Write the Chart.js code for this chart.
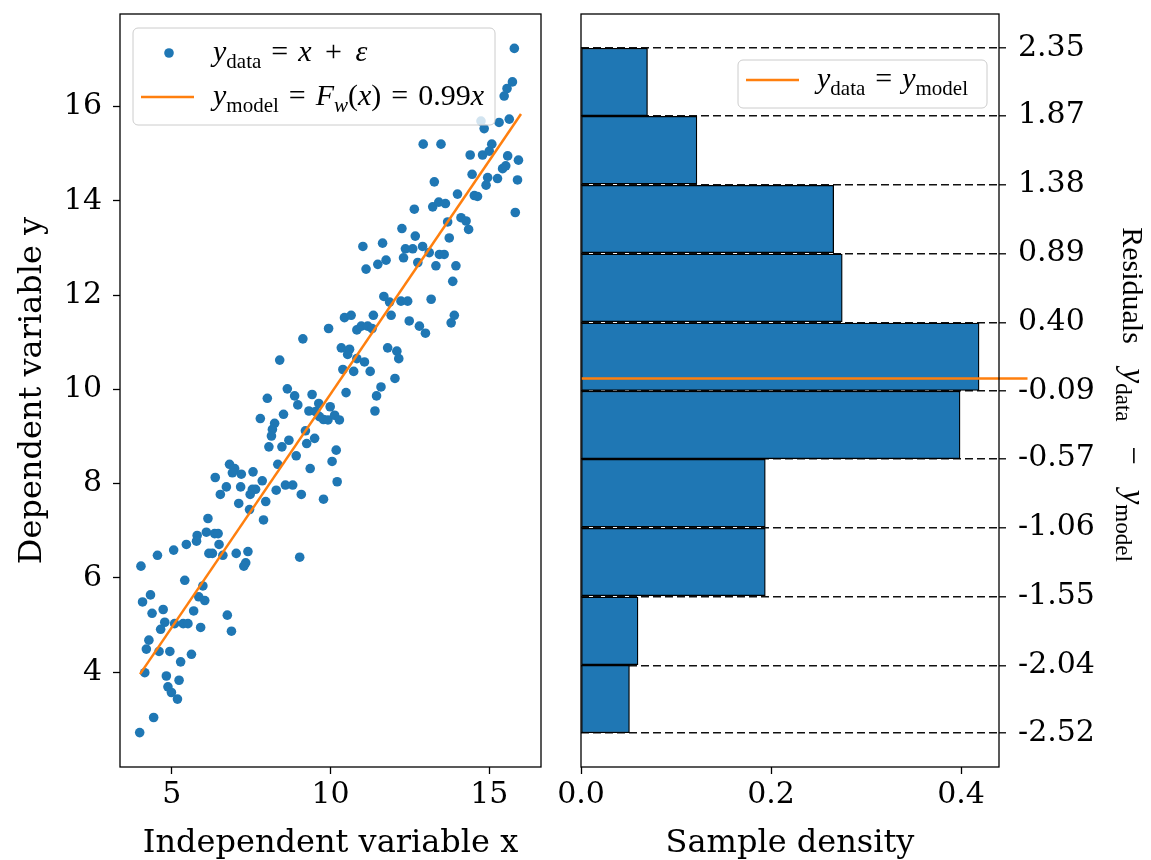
<!DOCTYPE html>
<html>
<head>
<meta charset="utf-8">
<script src="https://cdn.jsdelivr.net/npm/chart.js@4.4.1/dist/chart.umd.min.js"></script>
<style>
    html, body { margin: 0; padding: 0; background: #fff; }
    body { width: 1151px; height: 860px; position: relative; overflow: hidden; }
    #left { position: absolute; left: 0; top: 0; width: 560px; height: 860px; }
    #right { position: absolute; left: 540px; top: 0; width: 611px; height: 860px; }
</style>
</head>
<body>
<div id="left"><canvas id="fitChart"></canvas></div>
<div id="right"><canvas id="residChart"></canvas></div>
<script>
const xData = [
    15.79, 15.73, 15.56, 15.47, 14.74, 14.84, 15.31, 15.63, 12.92, 13.48, 15.08, 14.40, 14.79, 15.00,
    15.58, 15.92, 14.46, 14.95, 15.26, 15.42, 15.52, 15.89, 14.90, 13.27, 14.00, 14.53, 14.63, 12.64,
    13.22, 13.41, 13.62, 15.82, 14.11, 14.27, 14.35, 13.69, 12.25, 12.67, 13.74, 11.02, 11.64, 12.36,
    12.59, 12.90, 13.11, 13.43, 13.58, 12.30, 11.49, 11.75, 12.75, 13.32, 13.95, 11.12,
    13.85, 11.68, 11.86, 12.22, 12.43, 13.17, 10.44, 10.65, 11.35, 11.91, 12.48, 12.80, 12.99, 13.80,
    13.90, 9.94, 10.83, 10.97, 11.17, 11.31, 9.13, 10.34, 10.60, 10.54, 11.80, 12.09, 12.15, 8.40,
    10.83, 11.07, 10.39, 10.73, 11.25, 12.03, 11.59, 11.45, 11.40, 8.64, 8.87, 9.42, 8.01, 8.97,
    9.63, 9.99, 10.49, 9.32, 9.53, 9.65, 9.78, 9.92, 10.13, 10.28, 7.79, 8.52, 8.24, 8.17,
    8.14, 9.21, 9.50, 9.25, 8.69, 8.06, 8.47, 8.92, 10.18, 10.05, 8.34, 9.36, 6.82, 6.98,
    7.19, 7.56, 6.91, 6.37, 7.85, 6.72, 7.17, 6.53, 7.54, 7.64, 7.47, 8.29, 8.58, 8.81,
    9.08, 10.21, 9.78, 7.11, 7.96, 7.45, 6.14, 7.89,
    6.09, 6.35, 6.46, 5.80, 5.78, 5.46, 6.49, 5.06, 4.55, 6.17, 6.28, 6.61, 7.03, 7.40,
    9.03, 7.33, 7.27, 4.03, 5.41, 5.98, 4.33, 4.08, 5.85, 6.04, 4.73, 5.69, 4.38, 6.75,
    4.78, 4.65, 5.09, 5.36, 5.51, 5.91, 6.88, 4.28, 4.20, 4.60, 4.94, 5.62, 5.28, 4.15,
    4.83, 5.23, 4.88, 4.99, 5.18, 4.43, 3.99
];
const yData = [
    17.23, 16.52, 16.38, 16.22, 15.69, 15.53, 15.66, 15.73, 15.20, 15.20, 15.20, 14.97, 14.97, 15.05,
    14.95, 14.86, 14.56, 14.49, 14.47, 14.68, 14.74, 14.44, 14.33, 14.40, 14.14, 14.11, 14.09, 13.82,
    13.87, 13.97, 13.94, 13.75, 13.64, 13.57, 13.39, 13.55, 13.41, 13.25, 13.21, 13.03, 13.10, 12.98,
    12.98, 13.03, 12.90, 12.86, 12.86, 12.79, 12.65, 12.74, 12.69, 12.62, 12.62, 12.55,
    12.29, 11.97, 11.85, 11.87, 11.87, 11.91, 11.52, 11.57, 11.57, 11.57, 11.45, 11.34, 11.19, 11.41,
    11.57, 11.29, 11.26, 11.34, 11.34, 11.29, 11.07, 10.88, 10.85, 10.74, 10.88, 10.81, 10.65, 10.62,
    10.65, 10.58, 10.42, 10.38, 10.38, 10.23, 10.05, 9.86, 9.54, 10.01, 9.86, 9.89, 9.81, 9.67,
    9.70, 9.63, 9.93, 9.54, 9.53, 9.42, 9.36, 9.35, 9.45, 9.35, 9.38, 9.47, 9.28, 9.15,
    9.01, 9.12, 8.96, 8.85, 8.92, 8.78, 8.78, 8.59, 8.71, 8.47, 8.41, 8.32, 8.41, 8.32,
    8.20, 8.25, 8.23, 8.13, 8.06, 7.93, 7.93, 7.77, 7.88, 7.88, 7.77, 7.86, 7.97, 7.97,
    7.77, 8.04, 7.67, 7.58, 7.62, 7.45, 7.26, 7.23,
    6.97, 6.94, 6.94, 6.90, 6.78, 6.71, 6.71, 6.59, 6.48, 6.52, 6.52, 6.48, 6.52, 6.56,
    6.44, 6.32, 6.25, 6.25, 5.95, 5.83, 5.64, 5.49, 5.60, 5.52, 5.33, 5.30, 5.25, 5.21,
    5.06, 4.91, 5.03, 5.03, 5.03, 4.95, 4.87, 4.68, 4.49, 4.44, 4.44, 4.38, 4.22, 3.99,
    3.92, 3.83, 3.69, 3.57, 3.43, 3.04, 2.72
];
const modelX = [4, 16];
const modelY = [3.96, 15.84];

const binEdges = [-2.52, -2.04, -1.55, -1.06, -0.57, -0.09, 0.40, 0.89, 1.38, 1.87, 2.35];
const density = [0.051, 0.060, 0.194, 0.194, 0.399, 0.419, 0.275, 0.266, 0.122, 0.070];

const fitXTicks = [5, 10, 15];
const fitYTicks = [4, 6, 8, 10, 12, 14, 16];
const densityTicks = [0.0, 0.2, 0.4];

const BLUE = '#1f77b4';
const ORANGE = '#ff7f0e';
const SERIF = '"DejaVu Serif", serif';
const MATH = '"Liberation Serif", "Times New Roman", serif';
const EQ = ' \u200a=\u200a ';
const PLUS = ' \u2009+\u2009 ';

// little mathtext helper: parts are [text, style, scale?] with style r / i / s (subscript) / si
function mathFont(p, size) {
    const style = p[1];
    const sub = style === 's' || style === 'si';
    const px = Math.round(size * (p[2] || 1) * (sub ? 0.7 : 1));
    return (style === 'i' || style === 'si' ? 'italic ' : '') + px + 'px ' + MATH;
}
function mathWidth(ctx, parts, size) {
    let w = 0;
    parts.forEach(p => { ctx.font = mathFont(p, size); w += ctx.measureText(p[0]).width; });
    return w;
}
function drawMath(ctx, parts, x, y, size) {
    ctx.textAlign = 'left';
    ctx.textBaseline = 'alphabetic';
    ctx.fillStyle = '#000';
    parts.forEach(p => {
        ctx.font = mathFont(p, size);
        const dy = (p[1] === 's' || p[1] === 'si') ? size * 0.22 : 0;
        ctx.fillText(p[0], x, y + dy);
        x += ctx.measureText(p[0]).width;
    });
}

function ticksFrom(values) {
    return function (scale) {
        scale.ticks = values.map(v => ({ value: v }));
    };
}
function fixSize(prop, size) {
    return function (scale) {
        scale[prop] = size;
        scale.paddingTop = 0;
        scale.paddingBottom = 0;
        scale.paddingLeft = 0;
        scale.paddingRight = 0;
    };
}

const framePlugin = {
    id: 'frame',
    afterDatasetsDraw(chart) {
        const a = chart.chartArea;
        const ctx = chart.ctx;
        ctx.save();
        ctx.strokeStyle = '#000';
        ctx.lineWidth = 1.3;
        ctx.strokeRect(a.left, a.top, a.right - a.left, a.bottom - a.top);
        ctx.restore();
    }
};

const mathLegendPlugin = {
    id: 'mathLegend',
    afterDraw(chart, args, opts) {
        if (!opts.rows) return;
        const a = chart.chartArea;
        const ctx = chart.ctx;
        const x0 = a.left + opts.x, y0 = a.top + opts.y;
        ctx.save();
        ctx.beginPath();
        ctx.roundRect(x0, y0, opts.w, opts.h, 5);
        ctx.fillStyle = 'rgba(255,255,255,0.8)';
        ctx.fill();
        ctx.strokeStyle = '#cccccc';
        ctx.lineWidth = 1;
        ctx.stroke();
        opts.rows.forEach(row => {
            const my = y0 + row.dy;
            if (row.marker === 'dot') {
                ctx.beginPath();
                ctx.arc(x0 + 36, my, 4.8, 0, Math.PI * 2);
                ctx.fillStyle = row.color;
                ctx.fill();
            } else {
                ctx.beginPath();
                ctx.moveTo(x0 + 8, my);
                ctx.lineTo(x0 + 61, my);
                ctx.strokeStyle = row.color;
                ctx.lineWidth = 2.5;
                ctx.stroke();
            }
            drawMath(ctx, row.parts, x0 + opts.textX, my + 8, opts.size);
        });
        ctx.restore();
    }
};

const sideTitlePlugin = {
    id: 'sideTitle',
    afterDraw(chart, args, opts) {
        if (!opts.parts) return;
        const a = chart.chartArea;
        const ctx = chart.ctx;
        const w = mathWidth(ctx, opts.parts, opts.size);
        ctx.save();
        ctx.translate(a.right + opts.dx, (a.top + a.bottom) / 2 + opts.dy);
        ctx.rotate(Math.PI / 2);
        drawMath(ctx, opts.parts, -w / 2, 0, opts.size);
        ctx.restore();
    }
};

const tickFont = { family: SERIF, size: 30 };
const titleFont = { family: SERIF, size: 32, lineHeight: 1.0 };

const fitConfig = {
    type: 'scatter',
    data: {
        datasets: [{
            type: 'line',
            data: modelX.map((x, i) => ({ x: x, y: modelY[i] })),
            borderColor: ORANGE,
            borderWidth: 2.5,
            pointRadius: 0,
            order: 0
        }, {
            data: xData.map((x, i) => ({ x: x, y: yData[i] })),
            backgroundColor: BLUE,
            borderWidth: 0,
            pointRadius: 4.8,
            order: 1
        }]
    },
    options: {
        responsive: true,
        maintainAspectRatio: false,
        animation: false,
        layout: { padding: { left: 0, top: 14, right: 19, bottom: 0 } },
        plugins: {
            legend: { display: false },
            tooltip: { enabled: false },
            mathLegend: {
                x: 13, y: 14, w: 362, h: 97, textX: 80, size: 30,
                rows: [
                    { marker: 'dot', color: BLUE, dy: 25,
                      parts: [['y', 'i'], ['data', 's'], [EQ, 'r'], ['x', 'i'], [PLUS, 'r'], ['\u03b5', 'i']] },
                    { marker: 'line', color: ORANGE, dy: 69,
                      parts: [['y', 'i'], ['model', 's'], [EQ, 'r'], ['F', 'i'], ['w', 'si'], ['(', 'r'], ['x', 'i'],
                              [')', 'r'], [EQ + '0.99', 'r'], ['x', 'i']] }
                ]
            }
        },
        scales: {
            x: {
                type: 'linear',
                min: 3.37,
                max: 16.63,
                afterBuildTicks: ticksFrom(fitXTicks),
                afterFit: fixSize('height', 93),
                border: { display: false },
                grid: { drawOnChartArea: false, tickLength: 7, tickColor: '#000', tickWidth: 1.3 },
                ticks: { font: tickFont, color: '#000', padding: 3, maxRotation: 0, autoSkip: false },
                title: { display: true, text: 'Independent variable x', font: titleFont, color: '#000', padding: 0 }
            },
            y: {
                type: 'linear',
                min: 1.99,
                max: 17.96,
                afterBuildTicks: ticksFrom(fitYTicks),
                afterFit: fixSize('width', 120),
                border: { display: false },
                grid: { drawOnChartArea: false, tickLength: 7, tickColor: '#000', tickWidth: 1.3 },
                ticks: { font: tickFont, color: '#000', padding: 11, autoSkip: false },
                title: { display: true, text: 'Dependent variable y', font: titleFont, color: '#000',
                         padding: { top: 17, bottom: 0 } }
            }
        }
    },
    plugins: [framePlugin, mathLegendPlugin]
};

const residConfig = {
    type: 'bar',
    data: {
        datasets: [{
            type: 'line',
            data: [{ x: 0, y: 0 }, { x: 0.47, y: 0 }],
            borderColor: ORANGE,
            borderWidth: 2.5,
            pointRadius: 0,
            clip: false,
            order: 0
        }, {
            data: density.map((d, i) => ({ x: d, y: (binEdges[i] + binEdges[i + 1]) / 2 })),
            backgroundColor: BLUE,
            borderColor: '#000',
            borderWidth: 1.3,
            borderSkipped: false,
            barPercentage: 1,
            categoryPercentage: 1,
            order: 1
        }]
    },
    options: {
        indexAxis: 'y',
        responsive: true,
        maintainAspectRatio: false,
        animation: false,
        layout: { padding: { left: 41, top: 14, right: 0, bottom: 0 } },
        plugins: {
            legend: { display: false },
            tooltip: { enabled: false },
            mathLegend: {
                x: 157, y: 46, w: 249, h: 48, textX: 79, size: 30,
                rows: [
                    { marker: 'line', color: ORANGE, dy: 20,
                      parts: [['y', 'i'], ['data', 's'], [EQ, 'r'], ['y', 'i'], ['model', 's']] }
                ]
            },
            sideTitle: {
                dx: 124, dy: 4, size: 33,
                parts: [['Residuals', 'r', 0.9], ['   y', 'i'], ['data', 's'], ['   \u2212   ', 'r'], ['y', 'i'], ['model', 's']]
            }
        },
        scales: {
            x: {
                type: 'linear',
                position: 'bottom',
                min: 0,
                max: 0.44,
                afterBuildTicks: ticksFrom(densityTicks),
                afterFit: fixSize('height', 93),
                border: { display: false },
                grid: { drawOnChartArea: false, tickLength: 7, tickColor: '#000', tickWidth: 1.3 },
                ticks: {
                    font: tickFont, color: '#000', padding: 3, maxRotation: 0, autoSkip: false,
                    callback: v => v.toFixed(1)
                },
                title: { display: true, text: 'Sample density', font: titleFont, color: '#000', padding: 0 }
            },
            y: {
                type: 'linear',
                position: 'right',
                offset: false,
                min: -2.7635,
                max: 2.5935,
                afterBuildTicks: ticksFrom(binEdges),
                afterFit: fixSize('width', 152),
                border: { display: false, dash: [8, 4] },
                grid: {
                    offset: false, drawOnChartArea: true, color: '#111', lineWidth: 1.6,
                    tickLength: 7, tickColor: '#000', tickWidth: 1.3
                },
                ticks: {
                    font: tickFont, color: '#000', padding: 12, autoSkip: false,
                    callback: v => v.toFixed(2)
                }
            }
        }
    },
    plugins: [framePlugin, mathLegendPlugin, sideTitlePlugin]
};

const fitChart = new Chart(document.getElementById('fitChart'), fitConfig);
const residChart = new Chart(document.getElementById('residChart'), residConfig);
</script>
</body>
</html>
